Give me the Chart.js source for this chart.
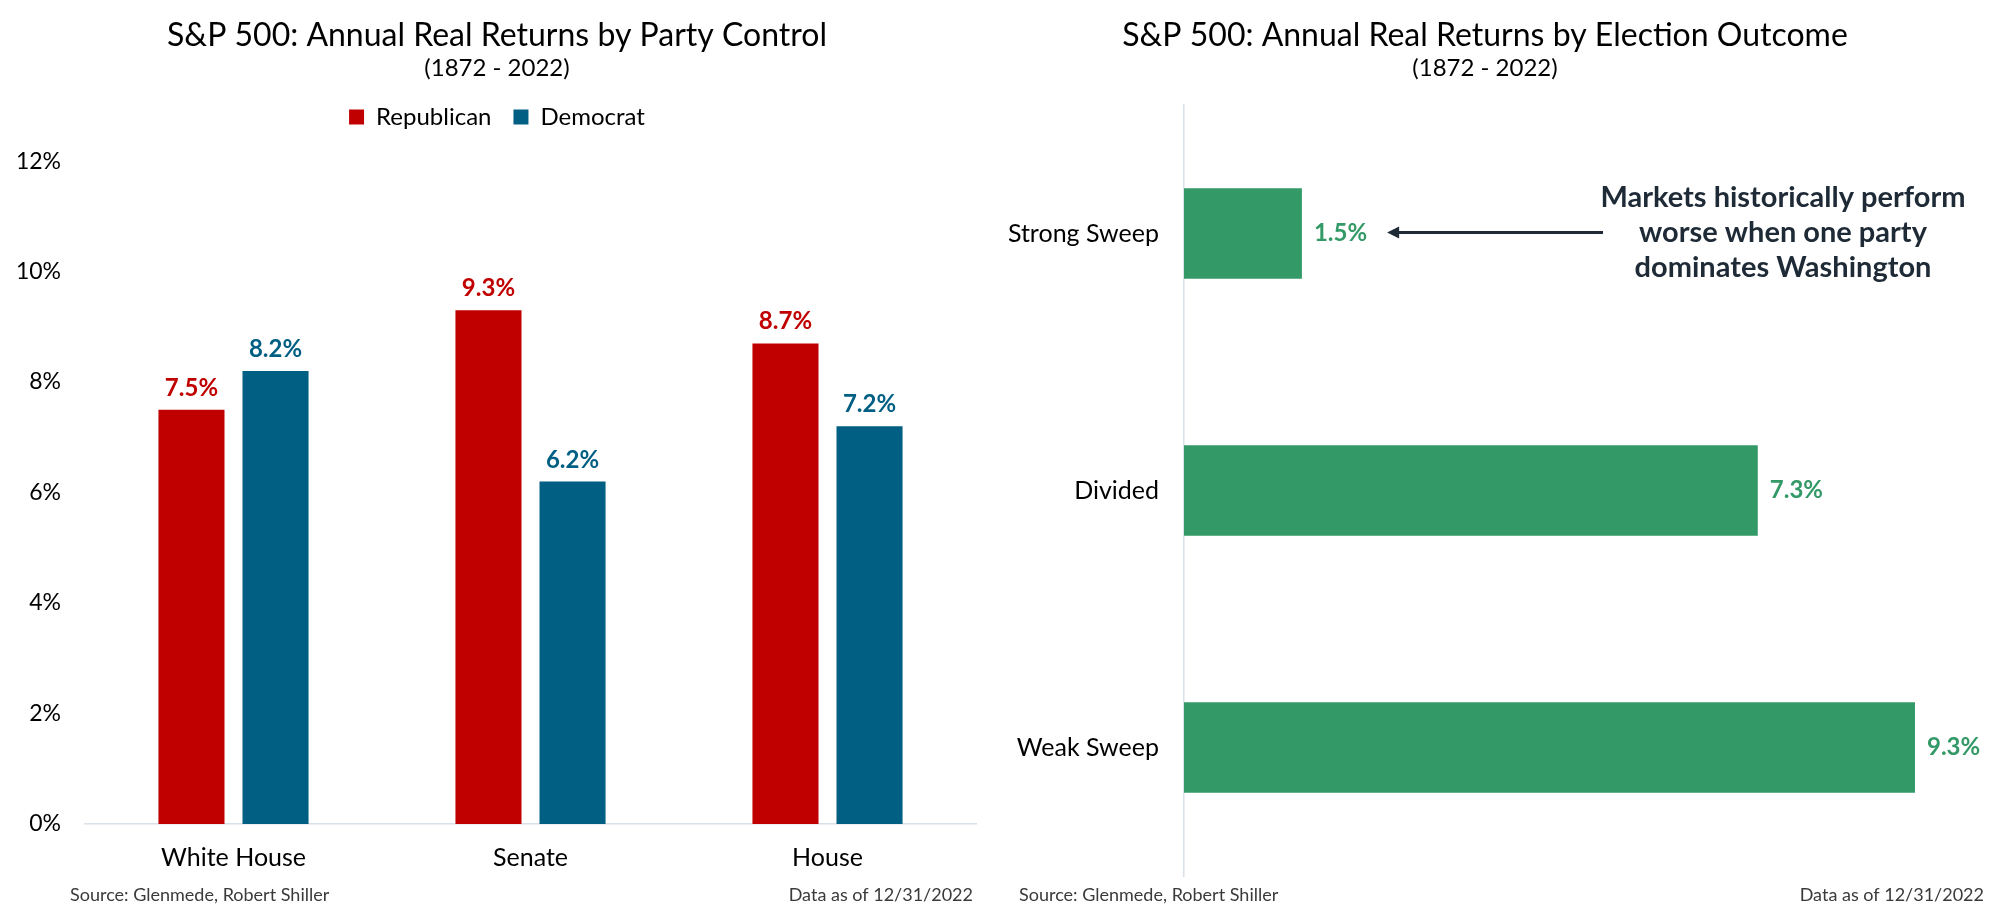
<!DOCTYPE html>
<html>
<head>
<meta charset="utf-8">
<script src="https://cdn.jsdelivr.net/npm/chart.js@4.4.1/dist/chart.umd.min.js"></script>
<style>
  html, body { margin: 0; padding: 0; background: #fff; }
  .panel { position: absolute; top: 0; width: 1000px; height: 916px; }
  #left { left: 0; }
  #right { left: 1000px; }
</style>
</head>
<body>
<div class="panel" id="left"><canvas id="partyChart"></canvas></div>
<div class="panel" id="right"><canvas id="outcomeChart"></canvas></div>
<script>
// data
const partyCategories = ['White House', 'Senate', 'House'];
const republicanReturns = [7.5, 9.3, 8.7];
const democratReturns = [8.2, 6.2, 7.2];
const partyTicks = [0, 2, 4, 6, 8, 10, 12];

const outcomeCategories = ['Strong Sweep', 'Divided', 'Weak Sweep'];
const outcomeReturns = [1.5, 7.3, 9.3];

const subtitleText = '(1872 - 2022)';
const sourceText = 'Source: Glenmede, Robert Shiller';
const dateText = 'Data as of 12/31/2022';
const calloutLines = ['Markets historically perform', 'worse when one party', 'dominates Washington'];

const RED = '#c00000';
const BLUE = '#005f83';
const GREEN = '#339966';
const AXIS = '#d8e0e9';
const FONT = 'Lato';

Chart.defaults.font.family = FONT;
Chart.defaults.color = '#000';

// value labels next to each bar
const barValueLabels = {
    id: 'barValueLabels',
    afterDatasetsDraw(chart) {
        const ctx = chart.ctx;
        const horizontal = chart.options.indexAxis === 'y';
        ctx.save();
        ctx.font = `bold 24px ${FONT}`;
        chart.data.datasets.forEach((ds, i) => {
            chart.getDatasetMeta(i).data.forEach((bar, j) => {
                const text = ds.data[j].toFixed(1) + '%';
                ctx.fillStyle = ds.labelColor;
                if (horizontal) {
                    ctx.textAlign = 'left';
                    ctx.textBaseline = 'middle';
                    ctx.fillText(text, bar.x + 12, bar.y);
                } else {
                    ctx.textAlign = 'center';
                    ctx.textBaseline = 'alphabetic';
                    ctx.fillText(text, bar.x, bar.y - 14);
                }
            });
        });
        ctx.restore();
    }
};

// source line + date at the bottom of each panel
function footnotes(leftX, rightX) {
    return {
        id: 'footnotes',
        afterDraw(chart) {
            const ctx = chart.ctx;
            ctx.save();
            ctx.font = `18px ${FONT}`;
            ctx.fillStyle = '#3a3a3a';
            ctx.textBaseline = 'alphabetic';
            ctx.textAlign = 'left';
            ctx.fillText(sourceText, leftX, 901);
            ctx.textAlign = 'right';
            ctx.fillText(dateText, rightX, 901);
            ctx.restore();
        }
    };
}

// callout text + arrow pointing at the first bar's label
const callout = {
    id: 'callout',
    afterDraw(chart) {
        const ctx = chart.ctx;
        const bar = chart.getDatasetMeta(0).data[0];
        ctx.save();
        ctx.font = `bold 24px ${FONT}`;
        const labelW = ctx.measureText(outcomeReturns[0].toFixed(1) + '%').width;
        const tipX = bar.x + 12 + labelW + 20;
        const tailX = 603;
        const y = bar.y - 1;
        ctx.strokeStyle = '#1e2a36';
        ctx.fillStyle = '#1e2a36';
        ctx.lineWidth = 3;
        ctx.beginPath();
        ctx.moveTo(tailX, y);
        ctx.lineTo(tipX + 10, y);
        ctx.stroke();
        ctx.beginPath();
        ctx.moveTo(tipX, y);
        ctx.lineTo(tipX + 12, y - 6);
        ctx.lineTo(tipX + 12, y + 6);
        ctx.closePath();
        ctx.fill();

        ctx.font = `bold 29px ${FONT}`;
        ctx.textAlign = 'center';
        ctx.textBaseline = 'alphabetic';
        calloutLines.forEach((line, i) => {
            ctx.fillText(line, 783, bar.y - 27 + i * 35);
        });
        ctx.restore();
    }
};

const titleFont = { size: 32, weight: 'normal' };
const subFont = { size: 24, weight: 'normal', lineHeight: 1 };

new Chart(document.getElementById('partyChart'), {
    type: 'bar',
    data: {
        labels: partyCategories,
        datasets: [
            { label: 'Republican', data: republicanReturns, backgroundColor: RED, labelColor: RED },
            { label: 'Democrat', data: democratReturns, backgroundColor: BLUE, labelColor: BLUE }
        ]
    },
    options: {
        responsive: true,
        maintainAspectRatio: false,
        animation: false,
        layout: { padding: { left: 18, right: 24, top: 0, bottom: 24 } },
        datasets: { bar: { categoryPercentage: 0.566, barPercentage: 0.786 } },
        plugins: {
            title: {
                display: true,
                text: 'S&P 500: Annual Real Returns by Party Control',
                font: titleFont,
                color: '#000',
                padding: { top: 16.8, bottom: 0 }
            },
            subtitle: {
                display: true,
                text: subtitleText,
                font: subFont,
                color: '#000',
                padding: { top: 0.8, bottom: 3 }
            },
            legend: {
                display: true,
                position: 'top',
                labels: { boxWidth: 15, boxHeight: 15, padding: 22, color: '#000', font: { size: 24 } }
            },
            tooltip: { enabled: false }
        },
        scales: {
            x: {
                grid: { display: false, drawTicks: false },
                border: { color: AXIS, width: 1.5 },
                ticks: { font: { size: 25 }, color: '#000', padding: 19 }
            },
            y: {
                min: 0,
                max: 12.4,
                grid: { display: false, drawTicks: false },
                border: { display: false },
                ticks: { font: { size: 23 }, color: '#000', padding: 24, callback: v => v + '%' },
                afterFit: s => { s.width = 67; },
                afterBuildTicks: s => { s.ticks = partyTicks.map(v => ({ value: v })); }
            }
        }
    },
    plugins: [barValueLabels, footnotes(70, 973)]
});

new Chart(document.getElementById('outcomeChart'), {
    type: 'bar',
    data: {
        labels: outcomeCategories,
        datasets: [
            { label: 'Real return', data: outcomeReturns, backgroundColor: GREEN, labelColor: GREEN }
        ]
    },
    options: {
        indexAxis: 'y',
        responsive: true,
        maintainAspectRatio: false,
        animation: false,
        layout: { padding: { left: 0, right: 30, top: 0, bottom: 36 } },
        datasets: { bar: { categoryPercentage: 0.353, barPercentage: 1 } },
        plugins: {
            title: {
                display: true,
                text: 'S&P 500: Annual Real Returns by Election Outcome',
                font: titleFont,
                color: '#000',
                padding: { top: 16.8, bottom: 0 }
            },
            subtitle: {
                display: true,
                text: subtitleText,
                font: subFont,
                color: '#000',
                padding: { top: 0.8, bottom: 25 }
            },
            legend: { display: false },
            tooltip: { enabled: false }
        },
        scales: {
            x: { display: false, min: 0, max: 10 },
            y: {
                grid: { display: false, drawTicks: false },
                border: { color: AXIS, width: 1.5 },
                ticks: { font: { size: 25 }, color: '#000', padding: 25 },
                afterFit: s => { s.width = 184; }
            }
        }
    },
    plugins: [barValueLabels, callout, footnotes(19, 984)]
});
</script>
</body>
</html>
